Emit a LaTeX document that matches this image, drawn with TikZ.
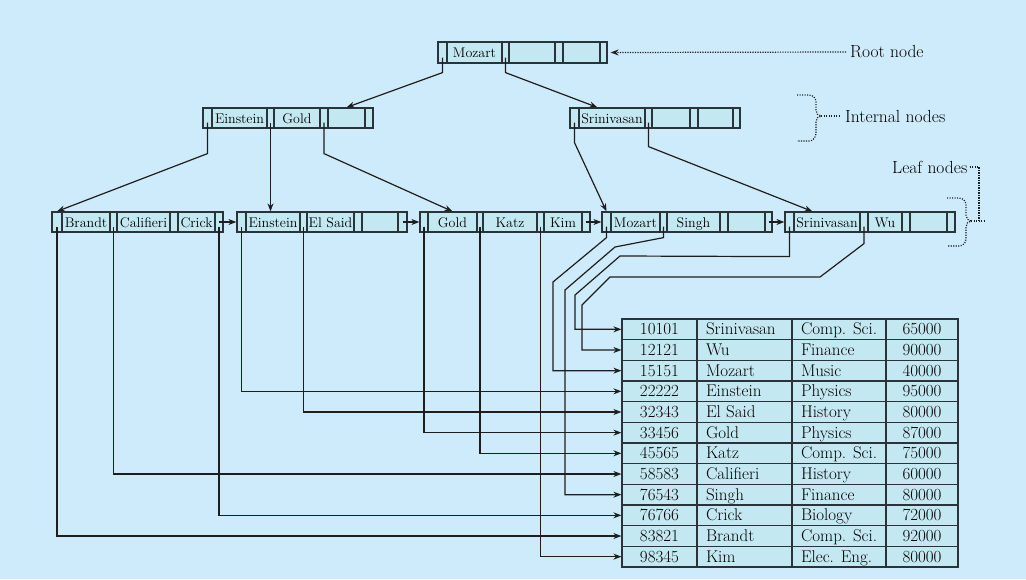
\documentclass[tikz,border=0pt]{standalone}
\usetikzlibrary{arrows.meta,calc}
\definecolor{bg}{RGB}{206,235,251}
\definecolor{cellfill}{RGB}{196,232,242}
\definecolor{bord}{RGB}{40,52,58}
\definecolor{lc}{RGB}{30,30,30}
\newcommand{\bpnode}[4]{%
  \foreach \a/\b/\t [count=\i] in {#4} {
    \node[cell, minimum width={\b-\a}, minimum height={#3-#2}] (#1-\i) at ({(\a+\b)/2},{(#2+#3)/2}) {\t};
  }%
}
\begin{document}
\begin{tikzpicture}[x=1pt,y=-1pt,
  cell/.style={draw=bord, fill=cellfill, line width=1.2pt, inner sep=0pt,
    font=\fontsize{14}{16}\selectfont, text height=11.5pt, text depth=1.5pt},
  tcell/.style={draw=bord, fill=cellfill, line width=1.2pt, inner ysep=0pt, inner xsep=9pt,
    minimum height=20.667pt, font=\fontsize{17}{19}\selectfont, text height=13.4pt, text depth=2.6pt},
  link/.style={draw=lc, line width=1.2pt, -{Stealth[length=8pt,width=6pt]}},
  dotline/.style={draw=lc, line width=1.2pt, dash pattern=on 1.1pt off 1.4pt},
  lbl/.style={font=\fontsize{17.5}{19}\selectfont, inner sep=0pt, anchor=west}]
\fill[bg] (0,0) rectangle (1026,579);
\useasboundingbox (0,0) rectangle (1026,579);

% tree nodes
\bpnode{root}{42}{63}{438/447/{},447/502/Mozart,502/509/{},509/555/{},555/563/{},563/600/{},600/607/{}}
\bpnode{int1}{108}{128}{203/212/{},212/267/Einstein,267/274/{},274/320/Gold,320/328/{},328/365/{},365/373/{}}
\bpnode{int2}{108}{128}{570/579/{},579/645/Srinivasan,645/652/{},652/690/{},690/698/{},698/733/{},733/740/{}}
\bpnode{l1}{212}{232}{52/62/{},62/110/Brandt,110/117/{},117/170/Califieri,170/178/{},178/215/Crick,215/223/{}}
\bpnode{l2}{212}{232}{237/246/{},246/300/Einstein,300/307/{},307/354/El Said,354/362/{},362/398/{},398/407/{}}
\bpnode{l3}{212}{232}{420/428/{},428/477/Gold,477/483/{},483/537/Katz,537/544/{},544/582/Kim,582/590/{}}
\bpnode{l4}{212}{232}{602/611/{},611/660/Mozart,660/667/{},667/720/Singh,720/728/{},728/765/{},765/772/{}}
\bpnode{l5}{212}{232}{785/794/{},794/860/Srinivasan,860/868/{},868/902/Wu,902/910/{},910/947/{},947/955/{}}

% table
\foreach \id/\nm/\dept/\sal [count=\r] in {
  10101/Srinivasan/Comp. Sci./65000,
  12121/Wu/Finance/90000,
  15151/Mozart/Music/40000,
  22222/Einstein/Physics/95000,
  32343/El Said/History/80000,
  33456/Gold/Physics/87000,
  45565/Katz/Comp. Sci./75000,
  58583/Califieri/History/60000,
  76543/Singh/Finance/80000,
  76766/Crick/Biology/72000,
  83821/Brandt/Comp. Sci./92000,
  98345/Kim/Elec. Eng./80000} {
  \pgfmathsetmacro\yc{319+20.667*(\r-0.5)}
  \node[tcell, minimum width=75pt] (t\r-1) at (659.5,\yc) {\id};
  \node[tcell, minimum width=95pt] (t\r-2) at (744.5,\yc) {\makebox[77pt][l]{\nm}};
  \node[tcell, minimum width=94pt] (t\r-3) at (839,\yc) {\makebox[76pt][l]{\dept}};
  \node[tcell, minimum width=72pt] (t\r-4) at (922,\yc) {\sal};
}

% tree pointers
\draw[link] ($(root-1.south)+(0,-6)$) -- ++(0,15) -- (int1-6.north);
\draw[link] ($(root-3.south)+(0,-6)$) -- ++(0,15) -- ($(int2-2.north west)+(19,0)$);
\draw[link] ($(int1-1.south)+(0,-6)$) -- ++(0,31) -- (l1-1.north);
\draw[link] ($(int1-3.south)+(0,-6)$) -- (int1-3.south |- l2-2.north);
\draw[link] ($(int1-5.south)+(0,-6)$) -- ++(0,31) -- (l3-2.north);
\draw[link] ($(int2-1.south)+(0,-6)$) -- ++(0,20) -- (l4-1.north);
\draw[link] ($(int2-3.south)+(0,-6)$) -- ++(0,24) -- ($(l5-2.north west)+(19,0)$);

% leaf chain
\draw[link] (l1-7.center) -- (l2-1.west);
\draw[link] (l2-7.center) -- (l3-1.west);
\draw[link] (l3-7.center) -- (l4-1.west);
\draw[link] (l4-7.center) -- (l5-1.west);

% record pointers
\draw[link] ($(l1-1.south)+(0,-6)$) |- (t11-1.west);
\draw[link] ($(l1-3.south)+(0,-6)$) |- (t8-1.west);
\draw[link] ($(l1-7.south)+(0,-6)$) |- (t10-1.west);
\draw[link] ($(l2-1.south)+(0,-6)$) |- (t4-1.west);
\draw[link] ($(l2-3.south)+(0,-6)$) |- (t5-1.west);
\draw[link] ($(l3-1.south)+(0,-6)$) |- (t6-1.west);
\draw[link] ($(l3-3.south)+(0,-6)$) |- (t7-1.west);
\draw[link] ($(l3-5.south)+(0,-6)$) |- (t12-1.west);
\draw[link] ($(l4-1.south)+(0,-6)$) -- ++(0,11) -- (553,282) |- (t3-1.west);
\draw[link] ($(l4-3.south)+(0,-6)$) -- ++(0,11) -- (615,247) -- (565,290) |- (t9-1.west);
\draw[link] ($(l5-1.south)+(0,-6)$) -- ++(0,30) -- (620,256) -- (575,295) |- (t1-1.west);
\draw[link] ($(l5-3.south)+(0,-6)$) -- ++(0,17) -- (820,277) -- (610,277) -- (582,305) |- (t2-1.west);

% labels
\node[lbl] (rootlbl) at (850,52) {Root node};
\node[lbl] (intlbl) at (845,116) {Internal nodes};
\node[lbl] (leaflbl) at (892,167) {Leaf nodes};

\draw[dotline, -{Stealth[length=8pt,width=6pt]}] ($(rootlbl.west)+(-4,0)$) -- ($(root-7.east)+(3,0)$);

\coordinate (ibrace) at (821,116);
\draw[dotline] (797,95) -- (809,95) to[out=0,in=90] (816,102) -- (816,110) to[out=-90,in=180] (ibrace)
  to[out=180,in=90] (816,122) -- (816,133) to[out=-90,in=0] (809,141) -- (797,141);
\draw[dotline] (ibrace) -- ($(intlbl.west)+(-6,0)$);

\coordinate (lbrace) at (971,221);
\draw[dotline] (947,198) -- (959,198) to[out=0,in=90] (966,205) -- (966,215) to[out=-90,in=180] (lbrace)
  to[out=180,in=90] (966,227) -- (966,239) to[out=-90,in=0] (959,246) -- (947,246);
\draw[dotline] (lbrace) -- (985,221);
\draw[dotline] ($(leaflbl.east)+(2,0)$) -| (979,221);
\end{tikzpicture}
\end{document}
